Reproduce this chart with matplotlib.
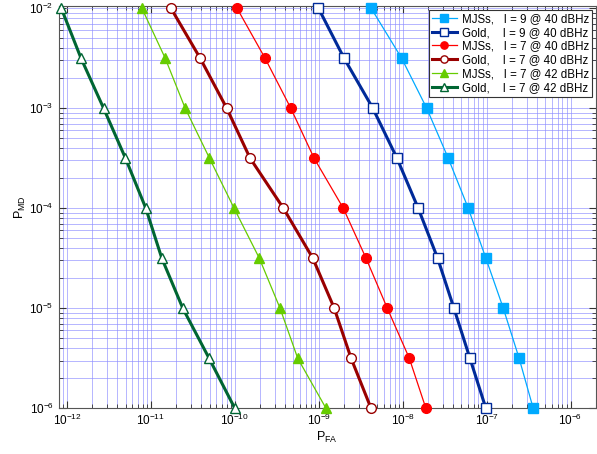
import numpy as np
import matplotlib
matplotlib.use('Agg')
import matplotlib.pyplot as plt
from matplotlib.ticker import LogLocator, NullFormatter

plt.rcParams['font.family'] = ['Liberation Sans', 'DejaVu Sans']
plt.rcParams['mathtext.fontset'] = 'custom'
plt.rcParams['mathtext.rm'] = 'Liberation Sans'
plt.rcParams['mathtext.it'] = 'Liberation Sans:italic'

# miss-detection probabilities (same for every curve)
p_md = [1e-2, 3.16e-3, 1e-3, 3.16e-4, 1e-4, 3.16e-5, 1e-5, 3.16e-6, 1e-6]

# false-alarm probabilities
mjs_9_40 = [4.2e-9, 9.7e-9, 1.93e-8, 3.49e-8, 6.04e-8, 9.8e-8, 1.58e-7, 2.44e-7, 3.59e-7]
gold_9_40 = [9.9e-10, 2.0e-9, 4.4e-9, 8.55e-9, 1.53e-8, 2.61e-8, 4.08e-8, 6.33e-8, 9.8e-8]
mjs_7_40 = [1.06e-10, 2.29e-10, 4.64e-10, 8.8e-10, 1.96e-9, 3.66e-9, 6.56e-9, 1.2e-8, 1.89e-8]
gold_7_40 = [1.73e-11, 3.86e-11, 8.0e-11, 1.52e-10, 3.79e-10, 8.5e-10, 1.53e-9, 2.43e-9, 4.2e-9]
mjs_7_42 = [7.8e-12, 1.48e-11, 2.56e-11, 4.99e-11, 9.8e-11, 1.96e-10, 3.46e-10, 5.62e-10, 1.22e-9]
gold_7_42 = [8.55e-13, 1.47e-12, 2.73e-12, 4.98e-12, 8.7e-12, 1.35e-11, 2.40e-11, 4.94e-11, 1.0e-10]

labels = ['MJSs,   I = 9 @ 40 dBHz',
          'Gold,    I = 9 @ 40 dBHz',
          'MJSs,   I = 7 @ 40 dBHz',
          'Gold,    I = 7 @ 40 dBHz',
          'MJSs,   I = 7 @ 42 dBHz',
          'Gold,    I = 7 @ 42 dBHz']

xticks = [1e-12, 1e-11, 1e-10, 1e-9, 1e-8, 1e-7, 1e-6]
yticks = [1e-6, 1e-5, 1e-4, 1e-3, 1e-2]

fig = plt.figure(figsize=(5.97, 4.54), dpi=100)
ax = fig.add_axes([0.098, 0.1007, 0.900, 0.8863])

# style: (x data, color, marker, filled, linewidth, markersize)
series = [
    (mjs_9_40, '#00aaff', 's', True, 0.9, 7.0),
    (gold_9_40, '#002a99', 's', False, 2.2, 7.0),
    (mjs_7_40, '#ff0000', 'o', True, 0.9, 7.0),
    (gold_7_40, '#990000', 'o', False, 2.2, 7.0),
    (mjs_7_42, '#66cc00', '^', True, 0.9, 7.0),
    (gold_7_42, '#006633', '^', False, 2.2, 7.0),
]

for (xs, col, mk, filled, lw, ms), lab in zip(series, labels):
    ax.loglog(xs, p_md, color=col, lw=lw, marker=mk, ms=ms,
              mfc=col if filled else 'white', mec=col, mew=1.0,
              label=lab, clip_on=False, zorder=3)

ax.set_xlim(7.94e-13, 2e-6)
ax.set_ylim(1e-6, 1.05e-2)
ax.set_xticks(xticks)
ax.set_yticks(yticks)

for axis in (ax.xaxis, ax.yaxis):
    axis.set_minor_locator(LogLocator(base=10, subs=np.arange(2, 10), numticks=20))
    axis.set_minor_formatter(NullFormatter())

ax.grid(True, which='both', color='#8c8cff', lw=0.6, alpha=0.75)
ax.tick_params(which='both', direction='in', top=True, right=True,
               labelsize=8.5, color='#333333')
ax.tick_params(which='major', length=5)
ax.tick_params(which='minor', length=3)
for s in ax.spines.values():
    s.set_color('#555555')
    s.set_linewidth(0.8)

ax.set_xlabel(r'P$_{\rm FA}$', fontsize=9, labelpad=1)
ax.set_ylabel(r'P$_{\rm MD}$', fontsize=9, labelpad=1)

leg = ax.legend(loc='upper right', fontsize=8.3, handlelength=2.2,
                labelspacing=0.16, borderaxespad=0.35, borderpad=0.25,
                handletextpad=0.4, markerscale=0.75, fancybox=False,
                framealpha=1, edgecolor='#333333')
leg.get_frame().set_linewidth(0.8)

fig.savefig('out.png', dpi=100)
